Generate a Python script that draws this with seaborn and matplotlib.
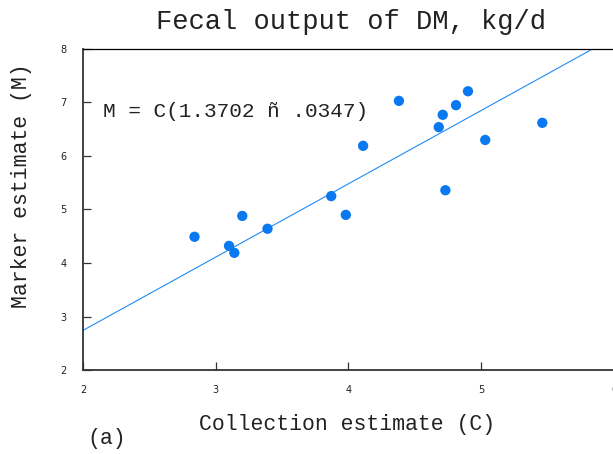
import matplotlib
matplotlib.use("Agg")
import matplotlib.pyplot as plt
import seaborn as sns
import pandas as pd

# Paired estimates of fecal dry-matter output (kg/d)
collection_c = [2.84, 3.10, 3.14, 3.20, 3.39, 3.87, 3.98, 4.11, 4.38,
                4.68, 4.71, 4.73, 4.81, 4.90, 5.03, 5.46]
marker_m = [4.49, 4.32, 4.19, 4.88, 4.64, 5.25, 4.90, 6.19, 7.03,
            6.54, 6.77, 5.36, 6.95, 7.21, 6.30, 6.62]

slope = 1.3702
slope_se = 0.0347
x_ticks = [2, 3, 4, 5, 6]
y_ticks = [2, 3, 4, 5, 6, 7, 8]

df = pd.DataFrame({"C": collection_c, "M": marker_m})
fit = pd.DataFrame({"C": [2.0, 6.0]})
fit["M"] = slope * fit["C"]

sns.set_style("white")
mono = ["Liberation Mono", "DejaVu Sans Mono"]

fig = plt.figure(figsize=(6.13, 4.54), dpi=100)
ax = fig.add_axes([0.1354, 0.185, 0.8662, 0.7071])

sns.lineplot(data=fit, x="C", y="M", ax=ax, color="#1e8cf5", lw=0.8)
sns.scatterplot(data=df, x="C", y="M", ax=ax, color="#0a78f0",
                s=55, edgecolor="none", zorder=3)

ax.set_xlim(2, 6)
ax.set_ylim(2, 8)
ax.set_xticks(x_ticks)
ax.set_yticks(y_ticks)
ax.set_xticklabels([str(v) for v in x_ticks])
ax.set_yticklabels([str(v) for v in y_ticks])
ax.tick_params(axis="both", direction="in", length=6, width=0.9,
               color="#333333", labelsize=7, labelcolor="#222222")
ax.tick_params(axis="y", pad=12, left=True)
ax.tick_params(axis="x", pad=11, bottom=True)

for side in ["left", "bottom"]:
    ax.spines[side].set_color("#333333")
    ax.spines[side].set_linewidth(1.3)
ax.spines["top"].set_color("black")
ax.spines["top"].set_linewidth(0.9)
ax.spines["right"].set_visible(False)

ax.set_xlabel("Collection estimate (C)", family=mono, fontsize=15.5,
              color="#222222")
ax.set_ylabel("Marker estimate (M)", family=mono, fontsize=15.5,
              color="#222222")
ax.xaxis.set_label_coords(0.497, -0.138)
ax.yaxis.set_label_coords(-0.096, 0.575)

fig.text(0.573, 0.951, "Fecal output of DM, kg/d", family=mono,
         fontsize=19.5, ha="center", va="center", color="#222222")
ax.text(2.15, 6.84, f"M = C({slope:.4f} ñ {slope_se:.4f}".replace("0.0", ".0") + ")",
        family=mono, fontsize=15.2, ha="left", va="center", color="#222222")
fig.text(0.143, 0.035, "(a)", family=mono, fontsize=15.5,
         ha="left", va="center", color="#222222")

fig.savefig("out.png", dpi=100)
